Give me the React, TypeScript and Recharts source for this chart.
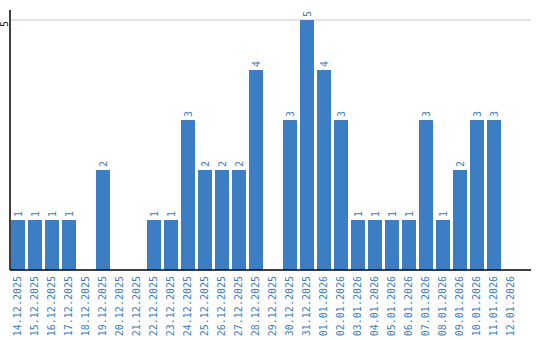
import React from 'react';
import { BarChart, Bar, XAxis, YAxis, CartesianGrid, LabelList } from 'recharts';

const categories = [
  '14.12.2025', '15.12.2025', '16.12.2025', '17.12.2025', '18.12.2025',
  '19.12.2025', '20.12.2025', '21.12.2025', '22.12.2025', '23.12.2025',
  '24.12.2025', '25.12.2025', '26.12.2025', '27.12.2025', '28.12.2025',
  '29.12.2025', '30.12.2025', '31.12.2025', '01.01.2026', '02.01.2026',
  '03.01.2026', '04.01.2026', '05.01.2026', '06.01.2026', '07.01.2026',
  '08.01.2026', '09.01.2026', '10.01.2026', '11.01.2026', '12.01.2026',
];
const values = [1, 1, 1, 1, 0, 2, 0, 0, 1, 1, 3, 2, 2, 2, 4, 0, 3, 5, 4, 3, 1, 1, 1, 1, 3, 1, 2, 3, 3, 0];
const yTicks = [5];

const data = categories.map((c, i) => ({ date: c, value: values[i] }));

const BLUE = '#3b7ec4';
const FONT = '"DejaVu Sans Mono", monospace';

const XTick = (props: any) => {
  const { x, y, payload } = props;
  return (
    <text
      x={x}
      y={y}
      transform={`rotate(-90, ${x}, ${y})`}
      textAnchor="end"
      dominantBaseline="central"
      fontFamily={FONT}
      fontSize={10}
      fill={BLUE}
    >
      {payload.value}
    </text>
  );
};

const YTick = (props: any) => {
  const { y, payload } = props;
  const x = 4;
  return (
    <text
      x={x}
      y={y + 7}
      transform={`rotate(-90, ${x}, ${y + 7})`}
      textAnchor="start"
      dominantBaseline="central"
      fontFamily={FONT}
      fontSize={10}
      fill="#222"
    >
      {payload.value}
    </text>
  );
};

const ValueLabel = (props: any) => {
  const { x, y, width, value } = props;
  if (!value) return null;
  const cx = x + width / 2;
  const cy = y - 3;
  return (
    <text
      x={cx}
      y={cy}
      transform={`rotate(-90, ${cx}, ${cy})`}
      textAnchor="start"
      dominantBaseline="central"
      fontFamily={FONT}
      fontSize={10}
      fill={BLUE}
    >
      {value}
    </text>
  );
};

export default function App() {
  return (
    <div style={{ position: 'absolute', left: 0, top: 0, width: 540, height: 340 }}>
      <BarChart
        width={540}
        height={340}
        data={data}
        margin={{ top: 10, right: 9, bottom: 0, left: 0 }}
      >
        <CartesianGrid vertical={false} stroke="#c8c8c8" strokeWidth={1} syncWithTicks />
        <XAxis
          dataKey="date"
          interval={0}
          height={70}
          tickLine={false}
          tickSize={4}
          tickMargin={2}
          padding={{ left: -1, right: 12 }}
          axisLine={{ stroke: '#000', strokeWidth: 1.5 }}
          tick={<XTick />}
        />
        <YAxis
          width={10}
          domain={[0, 5.2]}
          ticks={yTicks}
          tickLine={false}
          axisLine={{ stroke: '#000', strokeWidth: 1.5 }}
          tick={<YTick />}
        />
        <Bar dataKey="value" fill={BLUE} barSize={14} isAnimationActive={false}>
          <LabelList dataKey="value" content={<ValueLabel />} />
        </Bar>
      </BarChart>
    </div>
  );
}
